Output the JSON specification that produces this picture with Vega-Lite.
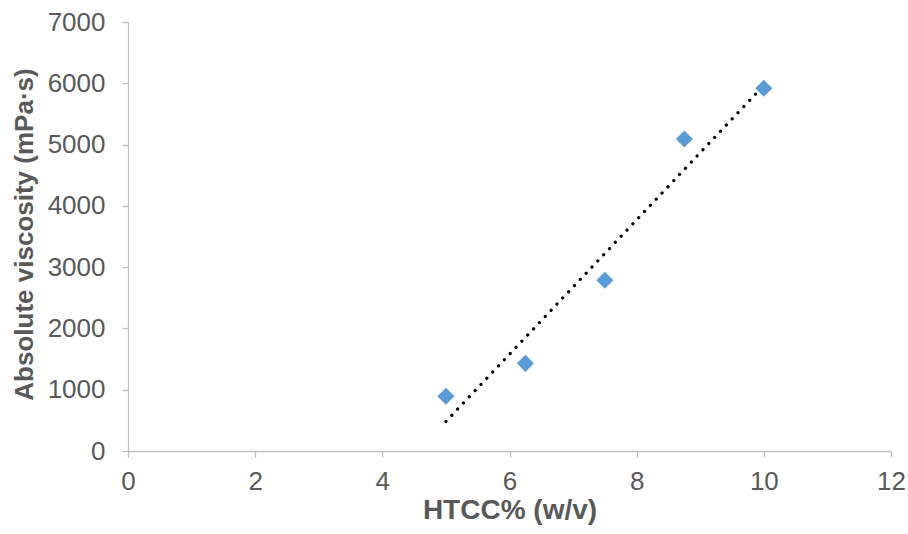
{
  "$schema": "https://vega.github.io/schema/vega-lite/v6.json",
  "width": 763,
  "height": 429,
  "autosize": {"type": "none"},
  "padding": {"left": 128, "top": 22, "right": 17, "bottom": 83},
  "background": "white",
  "config": {
    "view": {"stroke": null},
    "font": "Liberation Sans",
    "axis": {
      "grid": false,
      "labelFlush": false,
      "domainColor": "#bfbfbf",
      "domainWidth": 1.3,
      "tickColor": "#bfbfbf",
      "tickWidth": 1.3,
      "tickSize": 6,
      "labelFont": "Liberation Sans",
      "labelFontSize": 26,
      "labelColor": "#595959",
      "titleFont": "Liberation Sans",
      "titleFontSize": 26,
      "titleFontWeight": "bold",
      "titleColor": "#595959"
    }
  },
  "data": {
    "values": [
      {"htcc": 5, "viscosity": 895},
      {"htcc": 6.25, "viscosity": 1430},
      {"htcc": 7.5, "viscosity": 2785},
      {"htcc": 8.75, "viscosity": 5090},
      {"htcc": 10, "viscosity": 5920}
    ]
  },
  "layer": [
    {
      "transform": [
        {"regression": "viscosity", "on": "htcc", "extent": [5, 10]}
      ],
      "mark": {
        "type": "line",
        "color": "black",
        "strokeWidth": 3.2,
        "strokeCap": "round",
        "strokeDash": [0.1, 8.4]
      },
      "encoding": {
        "x": {"field": "htcc", "type": "quantitative"},
        "y": {"field": "viscosity", "type": "quantitative"}
      }
    },
    {
      "mark": {
        "type": "point",
        "shape": "diamond",
        "filled": true,
        "size": 290,
        "color": "#5B9BD5",
        "opacity": 1
      },
      "encoding": {
        "x": {
          "field": "htcc",
          "type": "quantitative",
          "scale": {"domain": [0, 12], "nice": false, "zero": true},
          "axis": {
            "title": "HTCC% (w/v)",
            "values": [0, 2, 4, 6, 8, 10, 12],
            "format": "d",
            "labelPadding": 11,
            "titleFontSize": 28,
            "titleBaseline": "alphabetic",
            "titleY": 67
          }
        },
        "y": {
          "field": "viscosity",
          "type": "quantitative",
          "scale": {"domain": [0, 7000], "nice": false},
          "axis": {
            "title": "Absolute viscosity (mPa·s)",
            "values": [0, 1000, 2000, 3000, 4000, 5000, 6000, 7000],
            "format": "d",
            "labelPadding": 17,
            "titleBaseline": "alphabetic",
            "titleAngle": -90,
            "titleX": -96,
            "titleY": 212
          }
        }
      }
    }
  ]
}
